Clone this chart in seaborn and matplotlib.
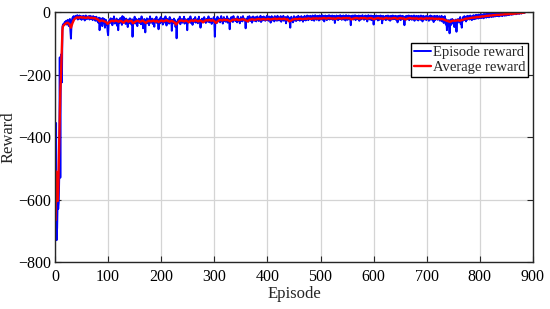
import numpy as np
import pandas as pd
import matplotlib
matplotlib.use("Agg")
import matplotlib.pyplot as plt
import seaborn as sns

episode_reward = [
    -660, -355, -730, -690, -600, -630, -610, -525, -145, -530, -150, -135, -225, -48, -40, -38, -42, -33, -36, -30,
    -28, -40, -34, -25, -37, -45, -30, -22, -60, -85, -42, -25, -18, -20, -13, -22, -15, -18, -12, -20,
    -16, -10, -24, -14, -19, -11, -22, -17, -13, -25, -15, -18, -12, -21, -14, -27, -16, -11, -19, -23,
    -15, -20, -13, -18, -24, -12, -17, -22, -14, -19, -26, -13, -18, -21, -16, -28, -20, -15, -24, -30,
    -22, -35, -18, -58, -27, -20, -31, -24, -45, -19, -28, -36, -22, -50, -30, -25, -40, -33, -62, -74,
    -38, -28, -24, -35, -20, -30, -26, -42, -22, -33, -14, -29, -37, -25, -31, -21, -44, -27, -58, -32,
    -24, -35, -19, -30, -26, -41, -13, -28, -34, -17, -30, -25, -38, -21, -27, -33, -48, -24, -29, -36,
    -20, -31, -26, -40, -23, -79, -34, -25, -29, -15, -37, -28, -22, -33, -45, -26, -30, -21, -35, -27,
    -24, -39, -14, -30, -26, -52, -33, -22, -28, -65, -25, -31, -20, -36, -27, -23, -42, -29, -14, -34,
    -26, -31, -21, -38, -24, -29, -47, -22, -33, -27, -15, -35, -25, -30, -55, -23, -28, -36, -16, -32,
    -27, -24, -40, -21, -30, -26, -34, -14, -29, -43, -25, -22, -31, -27, -37, -16, -28, -33, -24, -60,
    -30, -25, -36, -21, -29, -26, -48, -32, -84, -35, -27, -23, -31, -28, -15, -39, -26, -30, -22, -34,
    -25, -29, -15, -37, -27, -23, -32, -26, -58, -28, -21, -33, -25, -30, -14, -35, -24, -29, -41, -26,
    -22, -31, -27, -16, -34, -25, -29, -23, -36, -28, -15, -32, -26, -50, -30, -24, -21, -33, -27, -25,
    -16, -30, -26, -35, -22, -28, -24, -31, -14, -27, -33, -23, -29, -21, -38, -26, -24, -30, -16, -32,
    -79, -28, -22, -26, -35, -15, -30, -24, -27, -21, -33, -25, -13, -29, -23, -37, -26, -16, -28, -24,
    -31, -22, -27, -14, -34, -25, -21, -28, -55, -24, -30, -16, -26, -23, -32, -13, -27, -25, -22, -29,
    -21, -26, -33, -14, -24, -28, -22, -36, -25, -16, -27, -23, -30, -13, -26, -24, -21, -29, -52, -25,
    -22, -27, -15, -31, -24, -13, -26, -23, -29, -17, -34, -25, -14, -27, -22, -28, -16, -24, -30, -23,
    -14, -26, -22, -29, -17, -25, -12, -32, -24, -16, -27, -23, -14, -26, -22, -28, -17, -25, -12, -24,
    -22, -28, -14, -25, -17, -34, -23, -13, -27, -16, -24, -22, -30, -13, -26, -17, -23, -28, -12, -25,
    -16, -27, -22, -24, -13, -31, -17, -26, -23, -12, -28, -22, -25, -16, -36, -23, -27, -13, -24, -17,
    -26, -30, -50, -24, -15, -28, -22, -33, -25, -13, -27, -17, -24, -29, -15, -23, -26, -12, -25, -22,
    -28, -15, -24, -13, -26, -22, -31, -16, -25, -12, -23, -27, -15, -24, -11, -22, -26, -13, -23, -17,
    -12, -24, -16, -26, -11, -22, -14, -28, -17, -10, -23, -15, -25, -12, -22, -14, -27, -11, -21, -24,
    -13, -22, -10, -25, -16, -12, -30, -17, -11, -23, -14, -26, -12, -22, -16, -10, -24, -17, -12, -23,
    -15, -11, -25, -13, -22, -12, -35, -16, -24, -11, -21, -14, -26, -12, -23, -16, -10, -22, -13, -25,
    -12, -21, -11, -24, -16, -13, -27, -10, -22, -12, -25, -16, -11, -23, -13, -21, -42, -12, -22, -16,
    -11, -24, -13, -21, -10, -26, -16, -12, -23, -13, -22, -11, -28, -16, -12, -24, -17, -13, -10, -22,
    -16, -25, -12, -21, -11, -23, -13, -30, -16, -10, -22, -12, -24, -17, -11, -26, -13, -22, -12, -40,
    -17, -12, -24, -16, -11, -23, -13, -27, -22, -12, -25, -16, -11, -22, -13, -36, -17, -12, -24, -16,
    -22, -13, -26, -12, -23, -16, -11, -25, -17, -13, -28, -16, -12, -24, -17, -11, -23, -13, -22, -16,
    -12, -25, -17, -13, -33, -22, -12, -24, -16, -11, -26, -17, -13, -23, -12, -22, -16, -42, -17, -13,
    -24, -16, -12, -23, -17, -11, -26, -13, -22, -16, -12, -25, -17, -13, -23, -11, -28, -16, -22, -12,
    -24, -13, -21, -27, -12, -22, -16, -25, -11, -23, -13, -30, -17, -12, -24, -16, -22, -13, -26, -17,
    -12, -23, -16, -28, -13, -22, -11, -25, -17, -13, -24, -16, -32, -12, -22, -26, -13, -21, -23, -12,
    -25, -16, -22, -13, -28, -17, -24, -12, -30, -22, -16, -35, -23, -13, -27, -40, -24, -58, -30, -45,
    -26, -38, -68, -32, -24, -41, -28, -22, -36, -25, -30, -48, -27, -33, -24, -63, -29, -35, -22, -28,
    -26, -31, -16, -39, -25, -50, -23, -28, -15, -26, -13, -24, -22, -30, -14, -25, -12, -23, -21, -13,
    -24, -11, -22, -16, -26, -12, -21, -10, -23, -13, -11, -22, -9, -20, -12, -10, -21, -8, -19, -11,
    -9, -19, -7, -18, -12, -8, -20, -6, -17, -10, -7, -18, -5, -16, -9, -6, -17, -4, -15, -8,
    -5, -16, -6, -14, -3, -15, -7, -4, -14, -6, -2, -13, -5, -12, -3, -14, -6, -2, -12, -5,
    -3, -13, -2, -11, -5, -1, -12, -4, -2, -11, -1, -10, -3, -1, -10, -4, -1, -2, -9, -3,
    -1, -8, -1, -7, -4, -1, -3, -7, -1, -6, -2, -1, -4, -6, -1, -3, -2, -5, -1, -2,
    -0.5, -3, -0.5, -2, -0.5,
]
episodes = np.arange(1, len(episode_reward) + 1)

avg_reward = [
    -666, -510, -560, -600, -605, -570, -490, -395, -315, -255, -215, -160, -95, -58, -45,
    -40, -36, -34, -38, -50, -35, -24, -19, -17, -18,
    -16, -18, -17, -19, -18, -17, -19, -18, -20, -19,
    -22, -24, -30, -27, -28, -30, -32, -38, -33, -29,
    -28, -30, -27, -29, -31, -28, -30, -34, -29, -27,
    -31, -29, -28, -36, -32, -29, -28, -31, -30, -27,
    -31, -35, -30, -28, -30, -29, -27, -31, -28, -32,
    -29, -27, -30, -28, -26, -29, -31, -28, -30, -33,
    -40, -34, -29, -27, -28, -30, -27, -29, -33, -28,
    -27, -29, -26, -28, -30, -27, -29, -33, -28, -26,
    -27, -25, -28, -26, -29, -35, -30, -26, -25, -27,
    -24, -26, -25, -27, -30, -26, -24, -25, -23, -26,
    -25, -24, -23, -25, -27, -30, -25, -24, -23, -25,
    -24, -23, -22, -24, -23, -22, -24, -23, -22, -24,
    -23, -22, -21, -23, -22, -21, -23, -22, -21, -24,
    -23, -30, -28, -24, -23, -22, -23, -22, -21, -23,
    -22, -21, -22, -20, -21, -22, -20, -21, -20, -21,
    -20, -21, -20, -19, -21, -20, -19, -20, -21, -20,
    -22, -20, -19, -20, -21, -19, -20, -19, -20, -19,
    -24, -21, -20, -19, -20, -21, -19, -20, -19, -20,
    -21, -20, -19, -20, -23, -21, -20, -19, -21, -20,
    -22, -20, -19, -21, -20, -21, -20, -19, -20, -22,
    -20, -19, -21, -20, -24, -21, -20, -19, -21, -20,
    -21, -20, -22, -21, -20, -22, -21, -20, -21, -20,
    -21, -20, -22, -21, -22, -21, -23, -22, -24, -26,
    -28, -30, -31, -29, -27, -28, -27, -26, -28, -26,
    -25, -23, -21, -21, -20, -19, -18, -18, -17, -16,
    -16, -15, -14, -14, -13, -12, -12, -11, -11, -10,
    -10, -9, -9, -9, -8, -8, -7, -7, -7, -6,
    -6, -6, -5, -5, -4, -4, -3, -3, -2, -1,
]
avg_episodes = np.concatenate([np.arange(1, 16), np.arange(18, 886, 3)])

x_ticks = [0, 100, 200, 300, 400, 500, 600, 700, 800, 900]
y_ticks = [-800, -600, -400, -200, 0]

sns.set_theme(style="whitegrid")
plt.rcParams["font.family"] = ["Liberation Serif", "DejaVu Serif"]

fig = plt.figure(figsize=(5.5, 3.09), dpi=100)
ax = fig.add_axes([0.1, 0.152, 0.869, 0.809])

df_ep = pd.DataFrame({"Episode": episodes, "Reward": episode_reward})
df_avg = pd.DataFrame({"Episode": avg_episodes[:len(avg_reward)], "Reward": avg_reward})

sns.lineplot(data=df_ep, x="Episode", y="Reward", ax=ax, color="#0000ff",
             linewidth=1.4, label="Episode reward", estimator=None)
sns.lineplot(data=df_avg, x="Episode", y="Reward", ax=ax, color="#ff0000",
             linewidth=1.7, label="Average reward", estimator=None)

ax.set_xlim(0, 900)
ax.set_ylim(-800, 0)
ax.set_xticks(x_ticks)
ax.set_yticks(y_ticks)
ax.set_yticklabels(["\u2212800", "\u2212600", "\u2212400", "\u2212200", "0"])
ax.set_facecolor("white")
ax.grid(True, color="#d4d4d4", linewidth=0.9)
for s in ax.spines.values():
    s.set_color("#262626")
    s.set_linewidth(1.0)
    s.set_visible(True)
ax.tick_params(direction="in", length=4, width=0.8, colors="#262626",
               labelcolor="black", labelsize=11.5, top=True, right=True,
               bottom=True, left=True)
ax.tick_params(axis="x", pad=5)
ax.tick_params(axis="y", pad=3)
ax.set_xlabel("Episode", fontsize=12)
ax.set_ylabel("Reward", fontsize=12)
ax.xaxis.set_label_coords(0.5, -0.094)
ax.yaxis.set_label_coords(-0.08, 0.5)

leg = ax.legend(loc="upper right", bbox_to_anchor=(0.9895, 0.875), fontsize=10.5,
                frameon=True, fancybox=False, framealpha=1, edgecolor="black",
                handlelength=1.15, handletextpad=0.12, borderpad=0.2,
                labelspacing=0.12, borderaxespad=0)
leg.get_frame().set_linewidth(1.0)

fig.savefig("out.png", dpi=100)
